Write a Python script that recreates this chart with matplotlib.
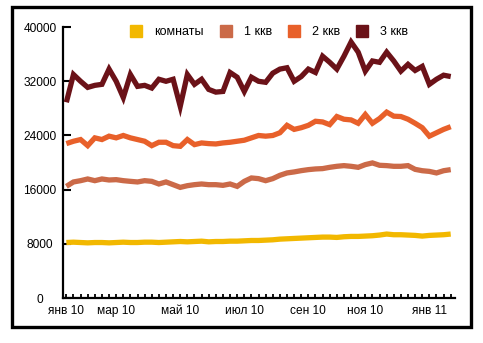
#!/usr/bin/env python3
# -*- coding:utf-8 -*-

import numpy as np
import matplotlib
matplotlib.use('Agg')
import matplotlib.pyplot as plt
from matplotlib.lines import Line2D
from matplotlib.patches import Rectangle

plt.rcParams['font.family'] = ['Liberation Sans Narrow', 'Liberation Sans', 'DejaVu Sans']

# weekly prices, jan 2010 .. jan 2011
rooms = [8200, 8250, 8200, 8150, 8200, 8200, 8150, 8200, 8250, 8200, 8200,
         8250, 8250, 8200, 8250, 8300, 8350, 8300, 8350, 8400, 8300,
         8350, 8350, 8400, 8400, 8450, 8500, 8500, 8550, 8600, 8700,
         8750, 8800, 8850, 8900, 8950, 9000, 9000, 8950, 9050, 9100,
         9100, 9150, 9200, 9300, 9450, 9350, 9350, 9300, 9250, 9150,
         9250, 9300, 9350, 9450]
one_room = [16490, 17140, 17330, 17580, 17330, 17580, 17430, 17480, 17330, 17230,
            17140, 17330, 17230, 16840, 17140, 16740, 16340, 16590, 16740, 16840,
            16740, 16740, 16640, 16840, 16490, 17230, 17730, 17630, 17330, 17630,
            18120, 18470, 18620, 18810, 18960, 19060, 19110, 19300, 19450, 19550,
            19450, 19300, 19700, 19950, 19600, 19550, 19450, 19450, 19550,
            19000, 18800, 18700, 18470, 18800, 18960]
two_room = [22800, 23150, 23400, 22500, 23650, 23400, 23900, 23650, 24000, 23650,
            23400, 23150, 22500, 23000, 23000, 22500, 22400, 23400, 22650, 22900,
            22800, 22750, 22900, 23000, 23150, 23300, 23650, 24000, 23900, 24000,
            24400, 25500, 24900, 25150, 25500, 26100, 26000, 25600, 26800, 26400,
            26300, 25800, 27100, 25800, 26500, 27450, 26850, 26800, 26400, 25800,
            25150, 23900, 24400, 24900, 25300]
three_room = [28900, 33000, 32000, 31100, 31400, 31550, 33800, 32000, 29600, 33000,
              31250, 31400, 31000, 32300, 32000, 32300, 28300, 33000, 31550, 32300,
              30800, 30400, 30500, 33300, 32600, 30500, 32600, 32000, 31850, 33200,
              33800, 34000, 32000, 32700, 33800, 33300, 35700, 34800, 33800, 35700,
              37800, 36300, 33500, 35000, 34800, 36300, 35000, 33500, 34500, 33600,
              34200, 31550, 32300, 32900, 32700]

series_names = ['комнаты', '1 ккв', '2 ккв', '3 ккв']
series_colors = ['#F2B800', '#CB6A48', '#E8602A', '#6B1218']
month_pos = [0, 7, 16, 25, 34, 42, 51]
month_labels = ['янв 10', 'мар 10', 'май 10', 'июл 10', 'сен 10', 'ноя 10', 'янв 11']
y_ticks = [0, 8000, 16000, 24000, 32000, 40000]

weeks = np.arange(len(rooms))

fig = plt.figure(figsize=(4.83, 3.43), dpi=100)
ax = fig.add_axes([0.130, 0.131, 0.812, 0.790])

for vals, col in zip([rooms, one_room, two_room, three_room], series_colors):
    ax.plot(weeks, vals, color=col, lw=3.8, solid_joinstyle='miter', solid_capstyle='butt')

ax.set_xlim(-0.5, 54.6)
ax.set_ylim(0, 40000)
ax.set_yticks(y_ticks)
ax.set_yticklabels([str(v) for v in y_ticks], fontsize=8.6, ha='center')
ax.set_xticks(month_pos)
ax.set_xticklabels(month_labels, fontsize=8.6)
ax.set_xticks(weeks, minor=True)

# y labels are centred in a column left of the axis
ax.tick_params(axis='y', direction='in', length=6, width=1.5, pad=16.5)
ax.tick_params(axis='x', which='both', direction='in', length=3, width=1.3, pad=5)

for s in ['top', 'right']:
    ax.spines[s].set_visible(False)
for s in ['left', 'bottom']:
    ax.spines[s].set_linewidth(1.6)

handles = [Line2D([], [], ls='none', marker='s', markersize=8.3, color=c) for c in series_colors]
fig.legend(handles, series_names, loc='center', bbox_to_anchor=(0.558, 0.907), ncol=4,
           frameon=False, fontsize=9, handlelength=0.9, handletextpad=1.0,
           columnspacing=1.3)

# outer frame
fig.patches.append(Rectangle((0.025, 0.047), 0.950, 0.933, transform=fig.transFigure,
                             fill=False, ec='black', lw=2.4))

fig.savefig('out.png', dpi=100)
